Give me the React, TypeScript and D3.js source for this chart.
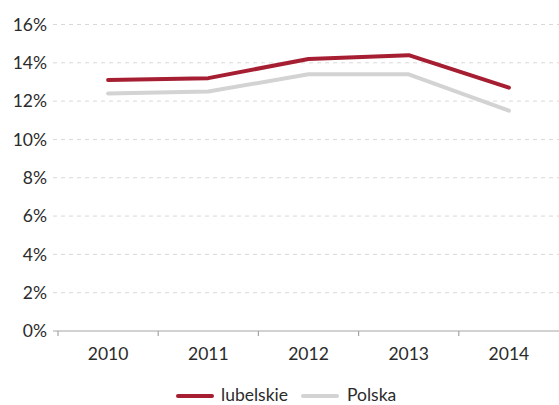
import React from "react";
import * as d3 from "d3";

const years = ["2010", "2011", "2012", "2013", "2014"];
const lubelskie = [13.1, 13.2, 14.2, 14.4, 12.7];
const polska = [12.4, 12.5, 13.4, 13.4, 11.5];
const yTicks = [0, 2, 4, 6, 8, 10, 12, 14, 16];

const width = 559;
const height = 405;
const font = "Lato, 'Open Sans', sans-serif";
const fontSize = 17.5;

export default function App() {
  // plot area
  const left = 58;
  const right = 559;
  const top = 24.5;
  const bottom = 331;

  const x = d3.scaleBand().domain(years).range([left, right]);
  const y = d3.scaleLinear().domain([0, 16]).range([bottom, top]);

  const line = d3
    .line<number>()
    .x((d, i) => x(years[i])! + x.bandwidth() / 2)
    .y((d) => y(d));

  const series = [
    { name: "lubelskie", values: lubelskie, color: "#A61E32" },
    { name: "Polska", values: polska, color: "#D3D3D3" },
  ];

  const bounds = years.map((yr) => x(yr)!);

  return (
    <svg
      width={width}
      height={height}
      style={{ position: "absolute", left: 0, top: 0, display: "block" }}
    >
      <rect width={width} height={height} fill="#fff" />
      {/* gridlines */}
      {yTicks.map((t) =>
        t === 0 ? null : (
          <line
            key={t}
            x1={53}
            x2={right}
            y1={y(t)}
            y2={y(t)}
            stroke="#D9D9D9"
            strokeWidth={1}
            strokeDasharray="4,4"
          />
        )
      )}
      {/* y labels */}
      {yTicks.map((t) => (
        <text
          key={"l" + t}
          x={47}
          y={y(t)}
          dy="0.35em"
          textAnchor="end"
          fontFamily={font}
          fontSize={fontSize}
          fill="#2b2b2b"
        >
          {t + "%"}
        </text>
      ))}
      {/* x axis */}
      <line x1={53} x2={right} y1={bottom} y2={bottom} stroke="#A6A6A6" strokeWidth={1.2} />
      {bounds.map((b) => (
        <line key={b} x1={b} x2={b} y1={bottom} y2={bottom + 5} stroke="#A6A6A6" strokeWidth={1.2} />
      ))}
      {years.map((yr) => (
        <text
          key={yr}
          x={x(yr)! + x.bandwidth() / 2}
          y={bottom + 23}
          dy="0.35em"
          textAnchor="middle"
          fontFamily={font}
          fontSize={fontSize}
          fill="#2b2b2b"
        >
          {yr}
        </text>
      ))}
      {/* lines, Polska below lubelskie */}
      {[...series].reverse().map((s) => (
        <path
          key={s.name}
          d={line(s.values)!}
          fill="none"
          stroke={s.color}
          strokeWidth={4}
          strokeLinecap="round"
          strokeLinejoin="round"
        />
      ))}
      {/* legend */}
      <line x1={178} x2={212} y1={396} y2={396} stroke={series[0].color} strokeWidth={4} strokeLinecap="round" />
      <text x={221} y={401} fontFamily={font} fontSize={fontSize} fill="#2b2b2b">
        lubelskie
      </text>
      <line x1={303} x2={337} y1={396} y2={396} stroke={series[1].color} strokeWidth={4} strokeLinecap="round" />
      <text x={347} y={401} fontFamily={font} fontSize={fontSize} fill="#2b2b2b">
        Polska
      </text>
    </svg>
  );
}
